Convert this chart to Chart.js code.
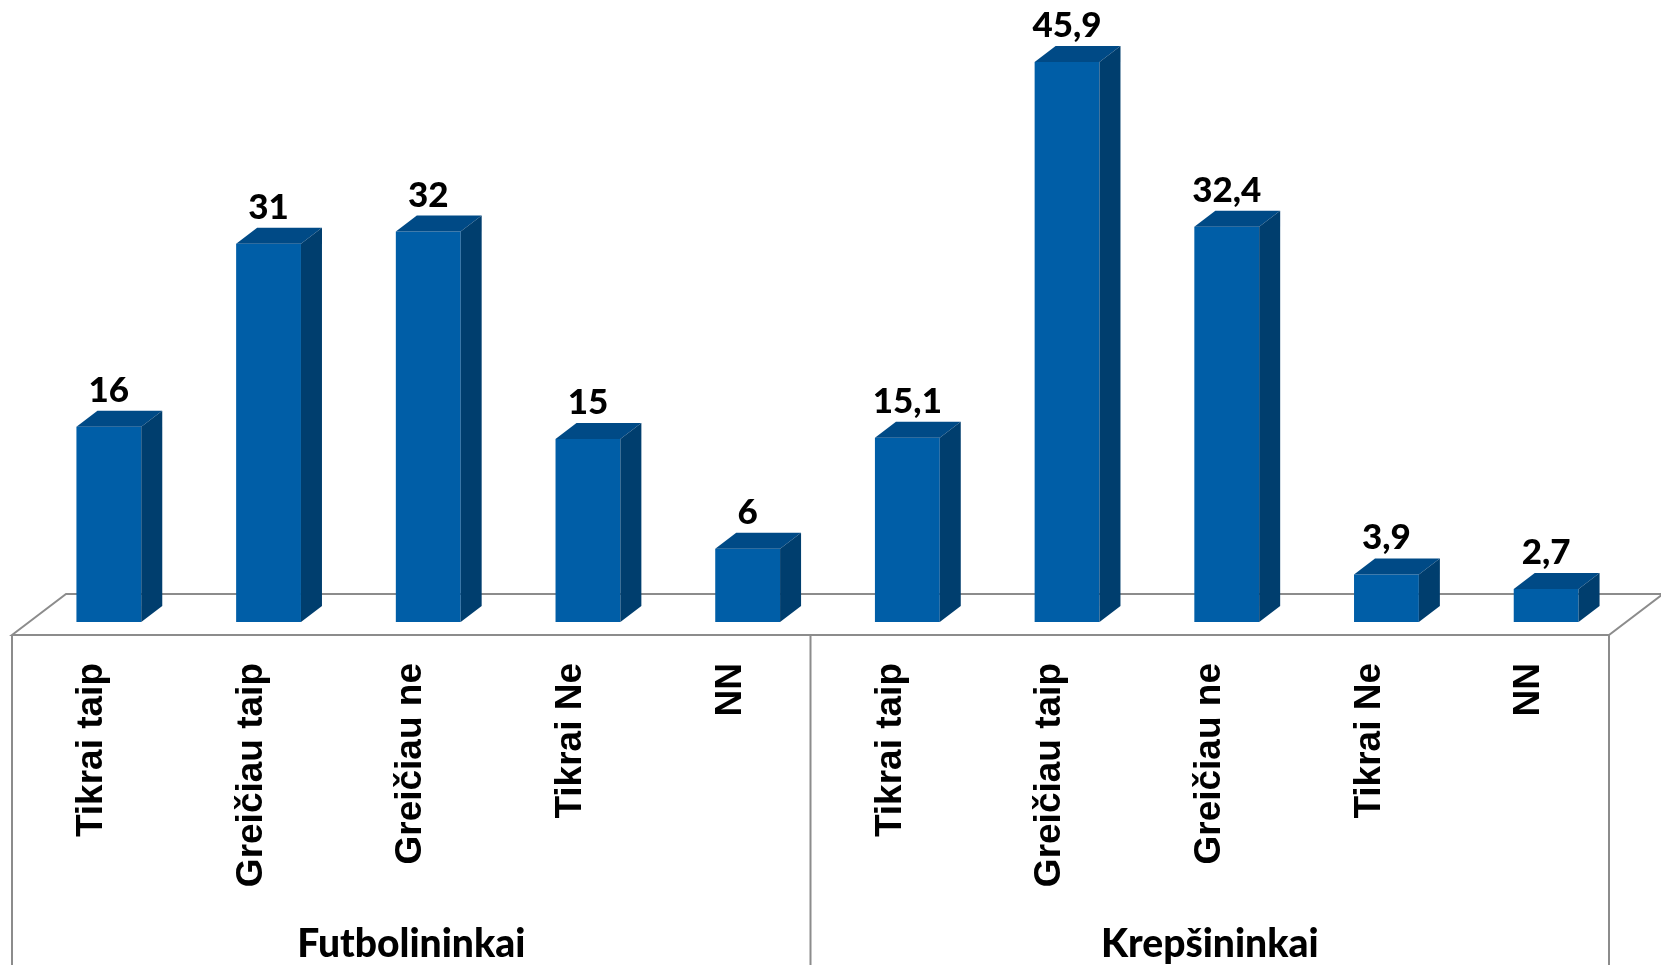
<!DOCTYPE html>
<html>
<head>
<meta charset="utf-8">
<script src="https://cdn.jsdelivr.net/npm/chart.js@4"></script>
<style>
  html, body { margin: 0; padding: 0; background: #fff; }
  canvas { display: block; }
</style>
</head>
<body>
<canvas id="chart" width="1661" height="965"></canvas>
<script>
const groups = ['Futbolininkai', 'Krepšininkai'];
const answers = ['Tikrai taip', 'Greičiau taip', 'Greičiau ne', 'Tikrai Ne', 'NN'];
const categories = [...answers, ...answers];
const values = [16, 31, 32, 15, 6, 15.1, 45.9, 32.4, 3.9, 2.7];

// 3D look
const FRONT = '#005EA7';
const TOP = '#004A86';
const SIDE = '#003E6E';
const BAR_DX = 21, BAR_DY = 16;          // bar depth
const FLOOR_BACK_DX = 37, FLOOR_BACK_DY = 28;   // floor back edge, from bar plane
const FLOOR_FRONT_DX = 17, FLOOR_FRONT_DY = 13; // floor front edge, from bar plane
const LINE = '#8C8C8C';

const fmt = v => String(v).replace('.', ',');

const bar3d = {
    id: 'bar3d',
    beforeDatasetsDraw(chart) {
        const { ctx, chartArea: a, scales: { y } } = chart;
        const y0 = y.getPixelForValue(0);
        const fl = a.left - FLOOR_FRONT_DX, fr = a.right - FLOOR_FRONT_DX, fy = y0 + FLOOR_FRONT_DY;
        const bl = a.left + FLOOR_BACK_DX, br = a.right + FLOOR_BACK_DX, by = y0 - FLOOR_BACK_DY;
        ctx.save();
        ctx.strokeStyle = LINE;
        ctx.lineWidth = 2;
        ctx.beginPath();
        ctx.moveTo(fl, fy);
        ctx.lineTo(bl, by);
        ctx.lineTo(br, by);
        ctx.lineTo(fr, fy);
        ctx.closePath();
        ctx.stroke();
        // group table lines under the floor
        const mid = (a.left + a.right) / 2 - FLOOR_FRONT_DX;
        [fl, mid, fr].forEach(x => {
            ctx.beginPath();
            ctx.moveTo(x, fy);
            ctx.lineTo(x, chart.height);
            ctx.stroke();
        });
        ctx.restore();
    },
    afterDatasetsDraw(chart) {
        const { ctx, scales: { x, y } } = chart;
        const y0 = y.getPixelForValue(0);
        const meta = chart.getDatasetMeta(0);
        ctx.save();
        meta.data.forEach((bar, i) => {
            const l = bar.x - bar.width / 2, r = bar.x + bar.width / 2, t = bar.y, b = bar.base;
            ctx.fillStyle = TOP;
            ctx.beginPath();
            ctx.moveTo(l, t);
            ctx.lineTo(l + BAR_DX, t - BAR_DY);
            ctx.lineTo(r + BAR_DX, t - BAR_DY);
            ctx.lineTo(r, t);
            ctx.closePath();
            ctx.fill();
            ctx.fillStyle = SIDE;
            ctx.beginPath();
            ctx.moveTo(r, t);
            ctx.lineTo(r + BAR_DX, t - BAR_DY);
            ctx.lineTo(r + BAR_DX, b - BAR_DY);
            ctx.lineTo(r, b);
            ctx.closePath();
            ctx.fill();

            // value label
            ctx.fillStyle = '#000';
            ctx.font = '900 35px Lato, "Open Sans", sans-serif';
            ctx.textAlign = 'center';
            ctx.textBaseline = 'alphabetic';
            ctx.fillText(fmt(values[i]), bar.x, t - 25);
        });

        // rotated category labels
        const fy = y0 + FLOOR_FRONT_DY;
        ctx.font = 'bold 37px "Liberation Sans", Arial, sans-serif';
        ctx.fillStyle = '#000';
        ctx.textAlign = 'right';
        ctx.textBaseline = 'middle';
        categories.forEach((c, i) => {
            const cx = x.getPixelForValue(i) - FLOOR_FRONT_DX;
            ctx.save();
            ctx.translate(cx, fy + 28);
            ctx.rotate(-Math.PI / 2);
            ctx.fillText(c, 0, 0);
            ctx.restore();
        });

        // group labels
        ctx.font = '900 39px Lato, "Open Sans", sans-serif';
        ctx.textAlign = 'center';
        ctx.textBaseline = 'alphabetic';
        const n = answers.length;
        groups.forEach((g, gi) => {
            const x1 = x.getPixelForValue(gi * n), x2 = x.getPixelForValue(gi * n + n - 1);
            ctx.fillText(g, (x1 + x2) / 2 - FLOOR_FRONT_DX, 957);
        });
        ctx.restore();
    }
};

new Chart(document.getElementById('chart'), {
    type: 'bar',
    data: {
        labels: categories,
        datasets: [{
            data: values,
            backgroundColor: FRONT,
            borderWidth: 0,
            barPercentage: 1,
            categoryPercentage: 0.406
        }]
    },
    options: {
        responsive: false,
        animation: false,
        layout: { padding: { left: 29, right: 35, top: 12, bottom: 343 } },
        plugins: { legend: { display: false }, tooltip: { enabled: false } },
        scales: {
            x: { display: false },
            y: { display: false, min: 0, max: 50 }
        }
    },
    plugins: [bar3d]
});
</script>
</body>
</html>
